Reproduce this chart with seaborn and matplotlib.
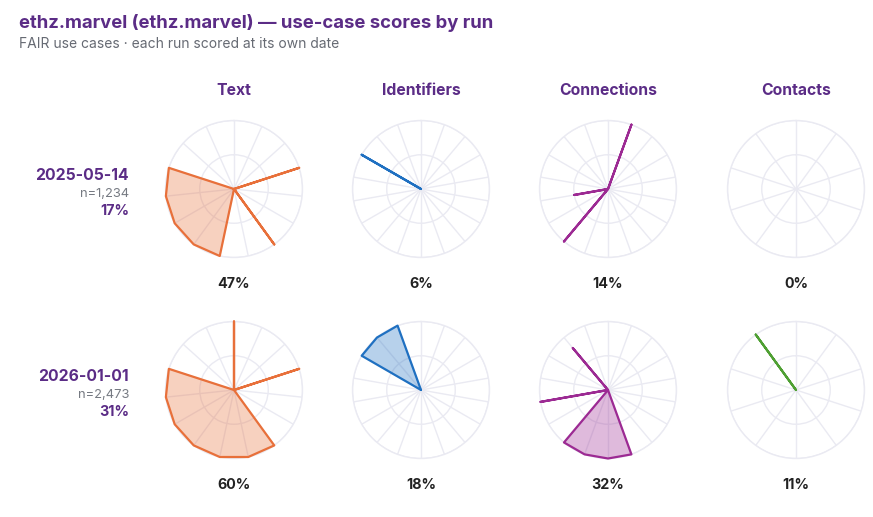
import numpy as np
import matplotlib
matplotlib.use("Agg")
import matplotlib.pyplot as plt
import seaborn as sns

sns.set_theme(style="white")
plt.rcParams['font.family'] = ['Inter', 'DejaVu Sans']

# ---- data ----
categories = ["Text", "Identifiers", "Connections", "Contacts"]
runs = ["2025-05-14", "2026-01-01"]
run_counts = ["n=1,234", "n=2,473"]
run_scores = [17, 31]

# per-use-case scores (0..1), one value per spoke, clockwise from top
text_2025 = [0, 0, 0, 1, 0, 0, 1, 0, 1, 1, 1, 1, 1, 0, 0]
text_2026 = [1, 0, 0, 1, 0, 0, 1, 1, 1, 1, 1, 1, 1, 0, 0]
ident_2025 = [0, 0, 0, 0, 0, 0, 0, 0, 0, 0, 0, 0, 0, 0, 0, 1, 0, 0]
ident_2026 = [0, 0, 0, 0, 0, 0, 0, 0, 0, 0, 0, 0, 0, 0, 0, 1, 1, 1]
conn_2025 = [0, 1, 0, 0, 0, 0, 0, 0, 0, 0, 0, 1, 0, 0.5, 0, 0, 0, 0]
conn_2026 = [0, 0, 0, 0, 0, 0, 0, 0, 1, 1, 1, 1, 0, 1, 0, 0, 0.8, 0]
contacts_2025 = [0, 0, 0, 0, 0, 0, 0, 0, 0, 0]
contacts_2026 = [0, 0, 0, 0, 0, 0, 0, 0, 0, 1]

scores_2025 = [47, 6, 14, 0]
scores_2026 = [60, 18, 32, 11]

values = [
    [text_2025, ident_2025, conn_2025, contacts_2025],
    [text_2026, ident_2026, conn_2026, contacts_2026],
]
scores = [scores_2025, scores_2026]

line_colors = ["#E8703A", "#1F70C1", "#9C2A93", "#4E9F32"]
title_purple = "#5B2C86"
grid_col = "#EAEAF2"

# ---- layout (pixels) ----
W, H = 873, 517
col_x = [234, 421, 608, 796]
row_y = [189, 390]
R = 68.5

fig = plt.figure(figsize=(W / 100, H / 100), dpi=100)


def fx(x):
    return x / W


def fy(y):
    return 1 - y / H


fig.text(fx(19), fy(28), "ethz.marvel (ethz.marvel) \u2014 use-case scores by run",
         fontsize=13.3, fontweight='bold', color=title_purple, va='baseline')
fig.text(fx(19), fy(48), "FAIR use cases \u00b7 each run scored at its own date",
         fontsize=10, color="#666a73", va='baseline')

for j, cat in enumerate(categories):
    fig.text(fx(col_x[j]), fy(95), cat, fontsize=11.3, fontweight='bold',
             color=title_purple, ha='center', va='baseline')

for i, run in enumerate(runs):
    cy = row_y[i]
    fig.text(fx(129), fy(cy - 9), run, fontsize=11.3, fontweight='bold',
             color=title_purple, ha='right', va='baseline')
    fig.text(fx(129), fy(cy + 8), run_counts[i], fontsize=9.3,
             color="#767a82", ha='right', va='baseline')
    fig.text(fx(129), fy(cy + 26), f"{run_scores[i]}%", fontsize=10.3,
             fontweight='bold', color=title_purple, ha='right', va='baseline')

    for j, cat in enumerate(categories):
        cx = col_x[j]
        ax = fig.add_axes([fx(cx - R), fy(cy + R), 2 * R / W, 2 * R / H],
                          projection='polar')
        v = np.array(values[i][j], dtype=float)
        n = len(v)
        theta = np.linspace(0, 2 * np.pi, n, endpoint=False)

        ax.set_theta_zero_location('N')
        ax.set_theta_direction(-1)
        ax.set_ylim(0, 1)
        ax.set_yticks([0.5, 1.0])
        ax.set_yticklabels([])
        ax.set_xticks(theta)
        ax.set_xticklabels([])
        ax.grid(True, color=grid_col, lw=1.0)
        ax.spines['polar'].set_color(grid_col)
        ax.spines['polar'].set_linewidth(1.0)
        ax.set_facecolor('white')

        if v.max() > 0:
            th = np.append(theta, theta[0] + 2 * np.pi)
            vv = np.append(v, v[0])
            ax.fill(th, vv, color=line_colors[j], alpha=0.32, lw=0, zorder=2)
            sns.lineplot(x=th, y=vv, ax=ax, sort=False, estimator=None,
                         color=line_colors[j], lw=1.6, clip_on=False, zorder=4)
        ax.set_xlabel('')
        ax.set_ylabel('')

        fig.text(fx(cx), fy(cy + 99), f"{scores[i][j]}%", fontsize=10.3,
                 fontweight='bold', color="#222222", ha='center', va='baseline')

fig.savefig("out.png", dpi=100, facecolor='white')
